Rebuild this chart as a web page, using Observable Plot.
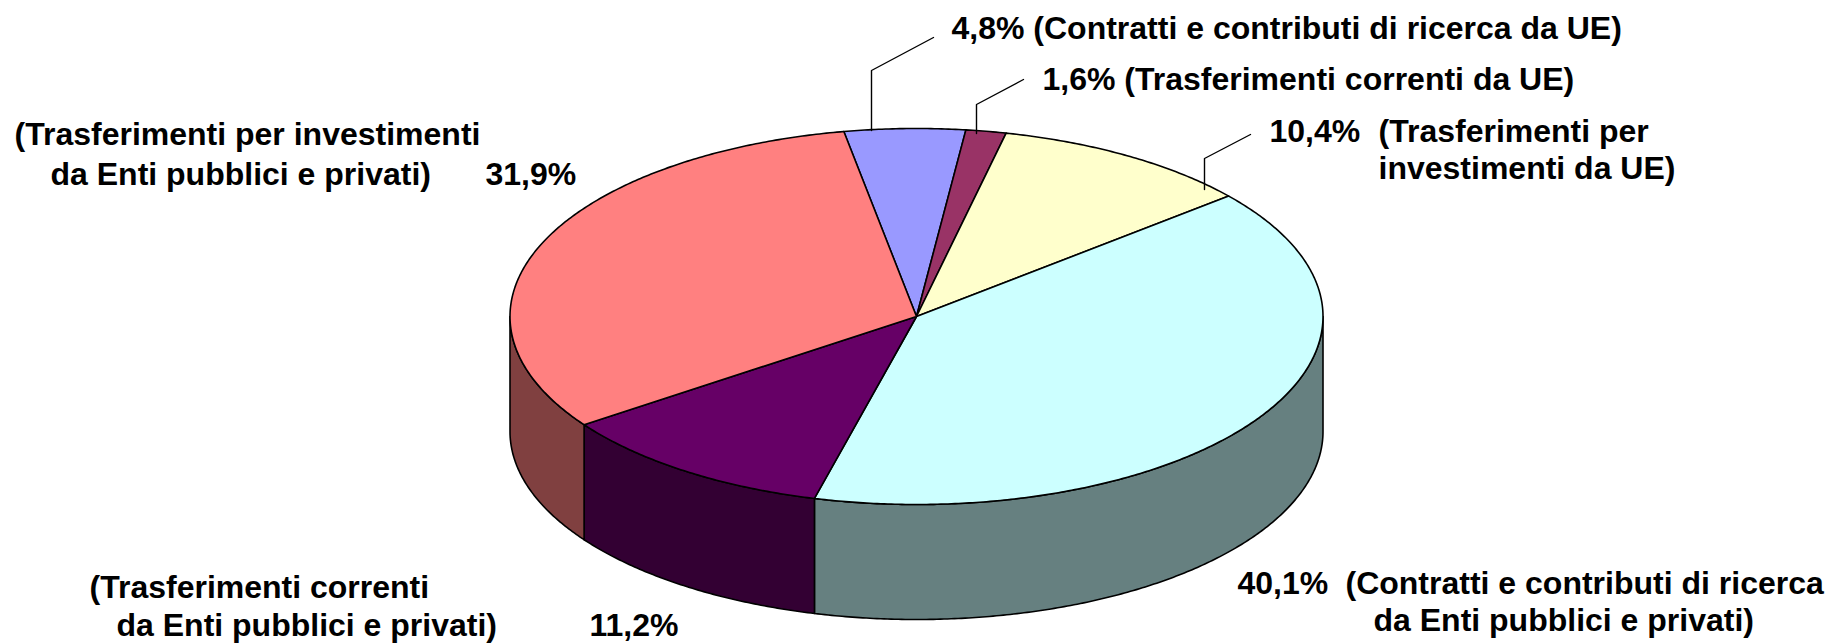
<!DOCTYPE html>
<html><head><meta charset="utf-8">
<script src="https://cdn.jsdelivr.net/npm/d3@7"></script>
<script src="https://cdn.jsdelivr.net/npm/@observablehq/plot@0.6"></script>
<style>html,body{margin:0;padding:0;background:#fff}svg{display:block}</style>
</head><body><div id="chart"></div>
<script>
const categories = ["Contratti e contributi di ricerca da UE","Trasferimenti correnti da UE","Trasferimenti per investimenti da UE","Contratti e contributi di ricerca da Enti pubblici e privati","Trasferimenti correnti da Enti pubblici e privati","Trasferimenti per investimenti da Enti pubblici e privati"];
const values = [4.8, 1.6, 10.4, 40.1, 11.2, 31.9];
const topColors = ["#9999FF","#993366","#FFFFCC","#CCFFFF","#660066","#FF8080"];
const sideColors = ["#4D4D80","#4D1A33","#808066","#668080","#330033","#804040"];
const labelLines = [
  {text:"4,8% (Contratti e contributi di ricerca da UE)", x:951, y:28},
  {text:"1,6% (Trasferimenti correnti da UE)", x:1042, y:79},
  {text:"10,4%", x:1269, y:131},
  {text:"(Trasferimenti per", x:1378, y:131},
  {text:"investimenti da UE)", x:1378, y:168},
  {text:"(Trasferimenti per investimenti", x:14, y:134},
  {text:"da Enti pubblici e privati)", x:50, y:174},
  {text:"31,9%", x:485, y:174},
  {text:"(Trasferimenti correnti", x:89, y:587},
  {text:"da Enti pubblici e privati)", x:116, y:625},
  {text:"11,2%", x:589, y:625},
  {text:"40,1%", x:1237, y:583},
  {text:"(Contratti e contributi di ricerca", x:1345, y:583},
  {text:"da Enti pubblici e privati)", x:1373, y:620}
];
const leaders = [
  [[933,37],[871,70],[871,130]],
  [[1023,79],[976,104],[976,133]],
  [[1250,134],[1204,158],[1204,189]]
];
const cx = 916, cy = 316, rx = 406.5, ry = 188, depth = 115, startDeg = -10.3;

const rad = Math.PI/180;
const pt = (a, dz=0) => ({x: cx + rx*Math.sin(a), y: cy - ry*Math.cos(a) + dz});
const arcs = d3.pie().sort(null).startAngle(startDeg*rad).endAngle((startDeg+360)*rad)(values);
const arcPts = (a0, a1, dz=0) => {
  const n = Math.max(2, Math.ceil((a1-a0)/(0.5*rad)));
  return d3.range(n+1).map(i => pt(a0 + (a1-a0)*i/n, dz));
};
const topSlice = a => [{x:cx,y:cy}, ...arcPts(a.startAngle, a.endAngle)];
const vis0 = 90*rad, vis1 = 270*rad;
const sideSlice = a => {
  const a0 = Math.max(a.startAngle, vis0), a1 = Math.min(a.endAngle, vis1);
  if (a1 <= a0) return null;
  return [...arcPts(a0,a1), ...arcPts(a0,a1,depth).reverse()];
};
const edge = {stroke:"#000", strokeWidth:1.6, strokeLinejoin:"round", curve:"linear-closed"};
const marks = [];
arcs.forEach(a => {
  const s = sideSlice(a);
  if (s) marks.push(Plot.line(s, {x:"x", y:"y", fill:sideColors[a.index], ...edge}));
});
arcs.forEach(a => marks.push(Plot.line(topSlice(a), {x:"x", y:"y", fill:topColors[a.index], ...edge})));
leaders.forEach(l => marks.push(Plot.line(l, {x:d=>d[0], y:d=>d[1], stroke:"#000", strokeWidth:1.4})));
marks.push(Plot.text(labelLines, {x:"x", y:"y", text:"text", textAnchor:"start", lineAnchor:"middle", fill:"#000",
  fontFamily:"'Liberation Sans', Arial, sans-serif", fontWeight:"bold", fontSize:32}));

document.getElementById("chart").append(Plot.plot({
  width:1831, height:644, margin:0,
  x:{domain:[0,1831], range:[0,1831], axis:null},
  y:{domain:[0,644], range:[0,644], axis:null},
  style:{background:"#fff", overflow:"visible"},
  marks
}));
</script></body></html>
